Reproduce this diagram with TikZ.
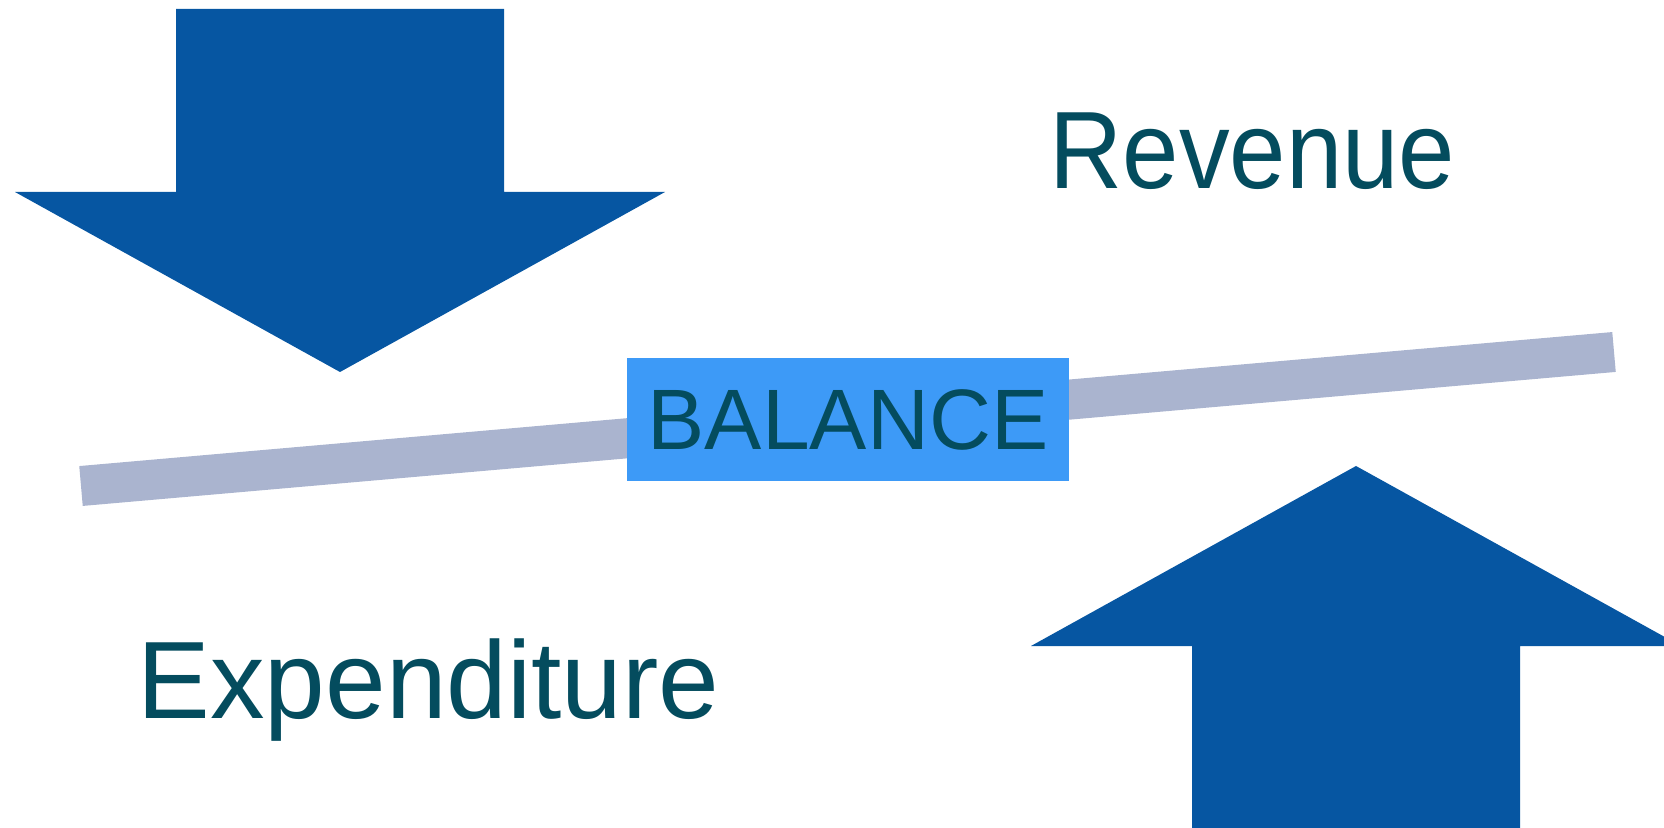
\documentclass[tikz,border=0pt]{standalone}
\usepackage{fontspec}
\setmainfont{Liberation Sans}
\definecolor{arrowblue}{RGB}{6,86,162}
\definecolor{barblue}{RGB}{170,180,207}
\definecolor{boxblue}{RGB}{61,154,247}
\definecolor{labelteal}{RGB}{4,76,94}
\begin{document}
\begin{tikzpicture}[x=0.01cm, y=-0.01cm,
  bigarrow/.style={fill=arrowblue},
  label/.style={labelteal, inner sep=0, anchor=base west, font=\fontsize{31.3}{36}\selectfont}]
\useasboundingbox (0,0) rectangle (1664,828);
\clip (0,0) rectangle (1664,828);
% downward arrow
\fill[bigarrow] (176,9) -- (504,9) -- (504,192) -- (665,192) -- (340,372) -- (15,192) -- (176,192) -- cycle;
% upward arrow
\fill[bigarrow] (1192,828) -- (1192,646) -- (1031,646) -- (1356,466) -- (1681,646) -- (1520,646) -- (1520,828) -- cycle;
% tilted beam
\coordinate (beamL) at (81,486);
\coordinate (beamR) at (1614,352);
\draw[barblue, line width=0.4cm] (beamL) -- (beamR);
\node[fill=boxblue, text=labelteal, inner sep=0, minimum width=4.42cm, minimum height=1.23cm,
  font=\fontsize{24.4}{30}\selectfont] (balance) at (848,419.5) {BALANCE};
\node[label] (revenue) at (1049,188.7) {\scalebox{0.92}[1]{Revenue}};
\node[label] (expenditure) at (137,718.7) {\scalebox{0.99}[1]{Expenditure}};
\end{tikzpicture}
\end{document}
